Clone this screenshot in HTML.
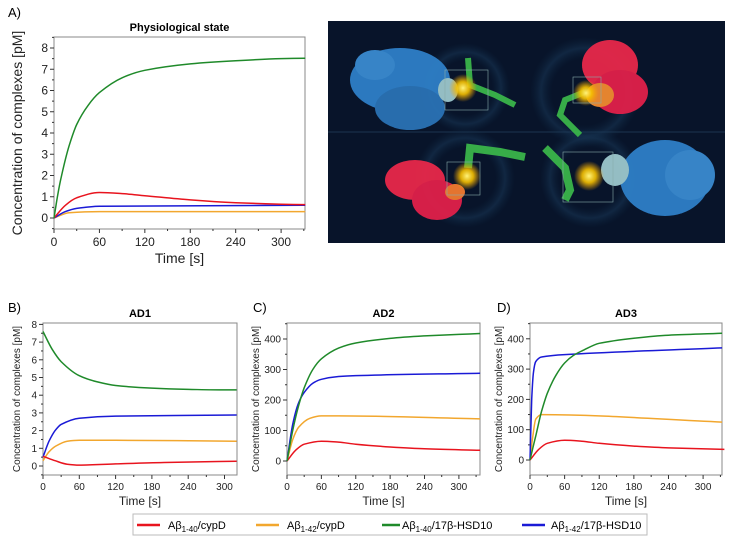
<!DOCTYPE html>
<html><head><meta charset="utf-8"><style>
html,body{margin:0;padding:0;background:#fff;}
svg{display:block;font-family:"Liberation Sans",Arial,sans-serif;}
</style></head><body>
<svg id="s" width="735" height="541" viewBox="0 0 735 541" xmlns="http://www.w3.org/2000/svg">
<defs>
<radialGradient id="glow"><stop offset="0" stop-color="#fff27a"/><stop offset="0.45" stop-color="#f5c000" stop-opacity="0.9"/><stop offset="1" stop-color="#f5a000" stop-opacity="0"/></radialGradient>
<radialGradient id="ring"><stop offset="0.6" stop-color="#0d2a45" stop-opacity="0"/><stop offset="0.8" stop-color="#1a3a5a" stop-opacity="0.5"/><stop offset="1" stop-color="#0d2a45" stop-opacity="0"/></radialGradient>
</defs>
<rect x="328" y="21" width="397" height="222" fill="#08142a"/>
<line x1="328" y1="132" x2="725" y2="132" stroke="#1d3550" stroke-width="1"/>
<circle cx="465" cy="88" r="45" fill="url(#ring)"/><circle cx="585" cy="92" r="55" fill="url(#ring)"/>
<circle cx="465" cy="178" r="50" fill="url(#ring)"/><circle cx="590" cy="178" r="50" fill="url(#ring)"/>
<g opacity="0.95">
<ellipse cx="400" cy="80" rx="50" ry="32" fill="#2e7fc7"/><ellipse cx="410" cy="108" rx="35" ry="22" fill="#2a72b5"/><ellipse cx="375" cy="65" rx="20" ry="15" fill="#3a8ad0"/>
<ellipse cx="448" cy="90" rx="10" ry="12" fill="#9cc7cc"/>
<path d="M468 58 L470 85 L495 95 L515 105" stroke="#3ab54a" stroke-width="6" fill="none"/>
<ellipse cx="610" cy="65" rx="28" ry="25" fill="#e8284a"/><ellipse cx="620" cy="92" rx="28" ry="22" fill="#e0204a"/><ellipse cx="600" cy="95" rx="14" ry="12" fill="#f08a30"/>
<path d="M585 92 L565 100 L560 115 L575 130 L580 135" stroke="#3ab54a" stroke-width="6" fill="none"/>
<ellipse cx="415" cy="180" rx="30" ry="20" fill="#e8284a"/><ellipse cx="437" cy="200" rx="25" ry="20" fill="#e0204a"/><ellipse cx="455" cy="192" rx="10" ry="8" fill="#f07a30"/>
<path d="M468 168 L470 148 L500 152 L525 157" stroke="#3ab54a" stroke-width="8" fill="none"/>
<ellipse cx="665" cy="178" rx="45" ry="38" fill="#2e7fc7"/><ellipse cx="690" cy="175" rx="25" ry="25" fill="#3a8ad0"/><ellipse cx="615" cy="170" rx="14" ry="16" fill="#9cc7cc"/>
<path d="M545 148 L565 168 L570 190 L565 200" stroke="#3ab54a" stroke-width="8" fill="none"/>
</g>
<circle cx="463" cy="88" r="14" fill="url(#glow)"/><circle cx="586" cy="93" r="13" fill="url(#glow)"/>
<circle cx="467" cy="176" r="14" fill="url(#glow)"/><circle cx="589" cy="176" r="15" fill="url(#glow)"/>
<rect x="445" y="70" width="43" height="40" fill="none" stroke="#8aa" stroke-width="0.6"/>
<rect x="573" y="77" width="28" height="26" fill="none" stroke="#8aa" stroke-width="0.6"/>
<rect x="447" y="162" width="33" height="33" fill="none" stroke="#8aa" stroke-width="0.6"/>
<rect x="563" y="152" width="50" height="50" fill="none" stroke="#8aa" stroke-width="0.6"/>

<text x="8" y="17" font-size="13">A)</text>
<text x="8" y="312" font-size="13">B)</text>
<text x="253" y="312" font-size="13">C)</text>
<text x="497" y="312" font-size="13">D)</text>

<rect x="133" y="514" width="514" height="21" fill="#fff" stroke="#bbb"/>
<g font-size="11">
<line x1="137" y1="525" x2="160" y2="525" stroke="#e8141e" stroke-width="2.5"/><text x="168" y="529">Aβ<tspan font-size="8" dy="3">1-40</tspan><tspan dy="-3">/cypD</tspan></text>
<line x1="256" y1="525" x2="279" y2="525" stroke="#f2a72e" stroke-width="2.5"/><text x="287" y="529">Aβ<tspan font-size="8" dy="3">1-42</tspan><tspan dy="-3">/cypD</tspan></text>
<line x1="382" y1="525" x2="400" y2="525" stroke="#1f8a2a" stroke-width="2.5"/><text x="402" y="529">Aβ<tspan font-size="8" dy="3">1-40</tspan><tspan dy="-3">/17β-HSD10</tspan></text>
<line x1="522" y1="525" x2="545" y2="525" stroke="#1a1ad6" stroke-width="2.5"/><text x="551" y="529">Aβ<tspan font-size="8" dy="3">1-42</tspan><tspan dy="-3">/17β-HSD10</tspan></text>
</g>
<g id="plots"></g>
</svg>
<script>
var NS="http://www.w3.org/2000/svg",g=document.getElementById("plots");
function el(t,a,txt){var e=document.createElementNS(NS,t);for(var k in a)e.setAttribute(k,a[k]);if(txt!=null)e.textContent=txt;g.appendChild(e);return e;}
var C={r:"#e8141e",o:"#f2a72e",g:"#1f8a2a",b:"#1a1ad6"};
function smooth(P){var n=P.length,s=[],m=[];
 for(var i=0;i<n-1;i++)s.push((P[i+1][1]-P[i][1])/(P[i+1][0]-P[i][0]));
 for(var i=0;i<n;i++){if(i==0)m.push(s[0]);else if(i==n-1)m.push(s[n-2]);
  else if(s[i-1]*s[i]<=0)m.push(0);else{var a=s[i-1],b=s[i];m.push(2/(1/a+1/b));}}
 var d="M"+P[0][0].toFixed(1)+","+P[0][1].toFixed(1);
 for(var i=0;i<n-1;i++){var dx=(P[i+1][0]-P[i][0])/3;
  d+=" C"+(P[i][0]+dx).toFixed(1)+","+(P[i][1]+m[i]*dx).toFixed(1)+" "+(P[i+1][0]-dx).toFixed(1)+","+(P[i+1][1]-m[i+1]*dx).toFixed(1)+" "+P[i+1][0].toFixed(1)+","+P[i+1][1].toFixed(1);}
 return d;}
function panel(p){
 var X=function(t){return p.x0+p.sx*t},Y=function(v){return p.y0-p.sy*v};
 el("rect",{x:p.L,y:p.T,width:p.R-p.L,height:p.B-p.T,fill:"none",stroke:"#888","stroke-width":1});
 var st=p.yt[1]-p.yt[0];
 for(var v=p.yt[0]-st/2;Y(v)>=p.T;v+=st/2){var y=Y(v);if(y<=p.B)el("line",{x1:p.L-(Math.abs(v/st-Math.round(v/st))<0.01?4:2),y1:y,x2:p.L,y2:y,stroke:"#333"});}
 p.yt.forEach(function(v){var y=Y(v);el("text",{x:p.L-6,y:y+p.fs*0.35,"font-size":p.fs,"text-anchor":"end",fill:"#222"},v);});
 for(var t=0;X(t)<=p.R;t+=30){var x=X(t);el("line",{x1:x,y1:p.B,x2:x,y2:p.B+(t%60?2:4),stroke:"#333"});}
 [0,60,120,180,240,300].forEach(function(t){var x=X(t);el("text",{x:x,y:p.B+p.fs+5,"font-size":p.fs,"text-anchor":"middle",fill:"#222"},t);});
 el("text",{x:(p.L+p.R)/2,y:p.B+p.fs*2+10,"font-size":p.fs+2,"text-anchor":"middle",fill:"#222"},"Time [s]");
 el("text",{x:(p.L+p.R)/2,y:p.T-6,"font-size":p.tf,"font-weight":"bold","text-anchor":"middle"},p.title);
 el("text",{x:0,y:0,"font-size":p.lf,"text-anchor":"middle",fill:"#222",transform:"translate("+p.lx+","+(p.T+p.B)/2+") rotate(-90)"},"Concentration of complexes [pM]");
 ["o","b","r","g"].forEach(function(k){var d=p.d[k];if(!d)return;var pts=[];for(var i=0;i<d.length;i+=2)pts.push([X(d[i]),Y(d[i+1])]);
  el("path",{d:smooth(pts),fill:"none",stroke:C[k],"stroke-width":1.5,"stroke-linejoin":"round"});});
}
panel({L:54,R:305,T:37,B:229,x0:54,sx:0.757,y0:218,sy:21.25,yt:[0,1,2,3,4,5,6,7,8],fs:12,tf:11,lf:14,lx:22,title:"Physiological state",
 d:{g:[0,0,5,1.1,10,2.0,20,3.4,30,4.4,45,5.3,60,5.9,90,6.6,120,6.95,180,7.25,240,7.4,300,7.5,332,7.52],
    r:[0,0,15,0.6,30,0.95,60,1.2,90,1.15,120,1.05,180,0.85,240,0.72,300,0.65,332,0.63],
    b:[0,0,15,0.3,30,0.45,60,0.55,332,0.6],
    o:[0,0,20,0.25,60,0.3,332,0.3]}});
panel({L:43,R:237,T:323,B:475,x0:43,sx:0.605,y0:466,sy:17.7,yt:[0,1,2,3,4,5,6,7,8],fs:10,tf:11,lf:10,lx:20,title:"AD1",
 d:{g:[0,7.6,15,6.6,30,5.9,60,5.1,90,4.75,120,4.55,180,4.4,240,4.33,300,4.3,320,4.3],
    b:[0,0.5,10,1.4,20,2.0,30,2.35,60,2.7,120,2.82,320,2.88],
    o:[0,0.3,10,0.8,20,1.1,40,1.4,60,1.45,120,1.45,320,1.4],
    r:[0,0.55,20,0.3,40,0.1,60,0.05,120,0.12,200,0.2,320,0.27]}});
var redAD=[0,0,15,35,30,55,60,65,90,62,120,55,180,46,240,40,337,35];
panel({L:287,R:480,T:323,B:475,x0:287,sx:0.573,y0:461,sy:0.305,yt:[0,100,200,300,400],fs:10,tf:11,lf:10,lx:259,title:"AD2",
 d:{g:[0,0,10,100,20,180,30,240,45,300,60,335,90,370,120,387,180,402,240,410,300,415,337,418],
    b:[0,0,10,120,20,190,30,225,45,255,60,268,90,277,120,280,337,288],
    o:[0,0,10,70,20,110,40,140,60,148,90,148,337,138],
    r:redAD}});
panel({L:530,R:722,T:323,B:475,x0:530,sx:0.577,y0:460,sy:0.303,yt:[0,100,200,300,400],fs:10,tf:11,lf:10,lx:502,title:"AD3",
 d:{g:[0,0,10,80,20,160,30,220,45,280,60,320,75,345,90,360,120,385,180,402,240,412,333,418],
    b:[0,0,3,200,6,290,10,325,20,340,60,348,333,370],
    o:[0,0,5,80,10,135,20,150,333,125],
    r:redAD}});
</script>
</body></html>
